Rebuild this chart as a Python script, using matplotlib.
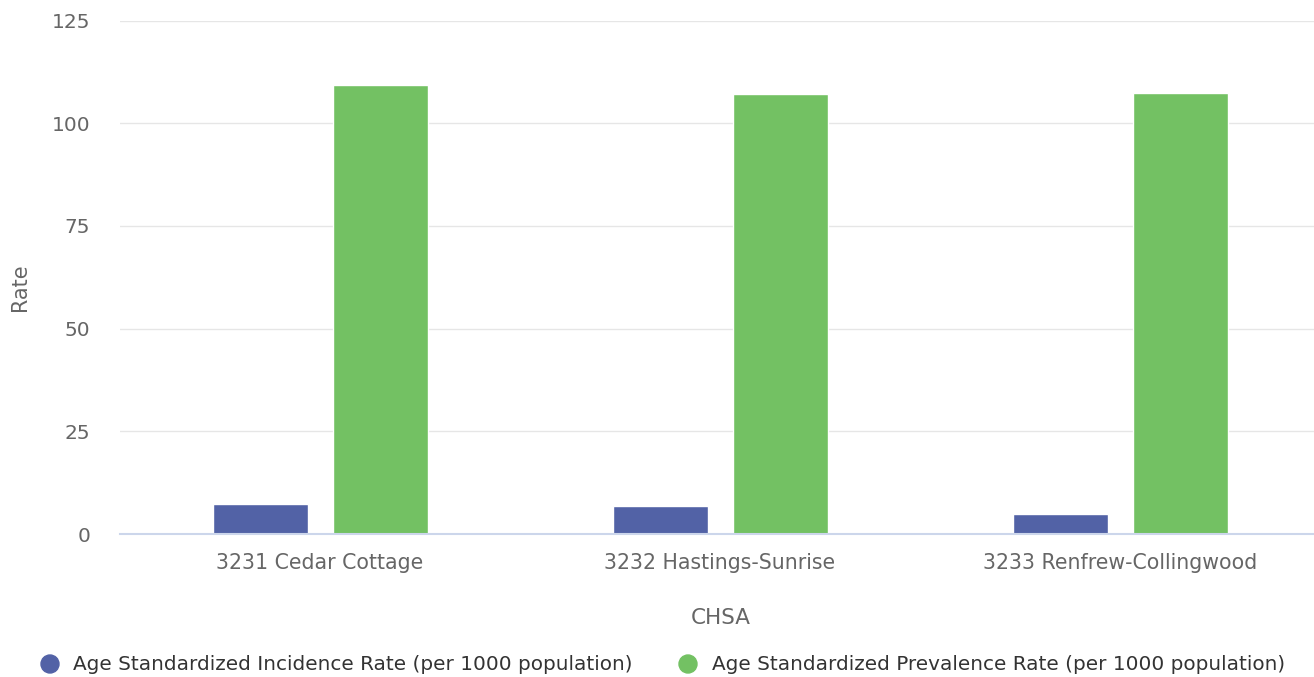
import matplotlib
matplotlib.use("Agg")
import matplotlib.pyplot as plt
import numpy as np

plt.rcParams['font.family'] = ['DejaVu Sans']

categories = ["3231 Cedar Cottage", "3232 Hastings-Sunrise", "3233 Renfrew-Collingwood"]
incidence = [7.2, 6.7, 4.9]
prevalence = [109.2, 107.0, 107.4]
series_names = ["Age Standardized Incidence Rate (per 1000 population)",
                "Age Standardized Prevalence Rate (per 1000 population)"]
yticks = [0, 25, 50, 75, 100, 125]

blue = "#5262a6"
green = "#73c163"
txt = "#666666"

W, H = 1314, 677
fig = plt.figure(figsize=(W / 100, H / 100), dpi=100)
ax = fig.add_axes([120 / W, 1 - 534 / H, 1200 / W, (534 - 20.5) / H])

x = np.arange(len(categories))
bw = 0.2375
off = 0.15
ax.bar(x - off, incidence, bw, color=blue, edgecolor="white", linewidth=1, zorder=3)
ax.bar(x + off, prevalence, bw, color=green, edgecolor="white", linewidth=1, zorder=3)

ax.set_xlim(-0.5, 2.5)
ax.set_ylim(0, 125)
ax.set_yticks(yticks)
ax.set_yticklabels([str(v) for v in yticks])
ax.set_xticks(x)
ax.set_xticklabels(categories)
ax.grid(axis="y", color="#e6e6e6", linewidth=1, zorder=0)
for s in ["top", "right", "left"]:
    ax.spines[s].set_visible(False)
ax.spines["bottom"].set_color("#ccd6eb")
ax.spines["bottom"].set_linewidth(1.5)
ax.spines["bottom"].set_zorder(4)
ax.tick_params(axis="y", length=0, pad=21.5, labelsize=14.5, labelcolor=txt)
ax.tick_params(axis="x", length=0, pad=13.5, labelsize=14.8, labelcolor=txt)

fig.text(20 / W, 1 - 287 / H, "Rate", rotation=90, ha="center", va="center", fontsize=15, color=txt)
fig.text(721 / W, 1 - 618 / H, "CHSA", ha="center", va="center", fontsize=15.5, color=txt)

# legend
ly = 1 - 664 / H
fig.patches.append(matplotlib.patches.Ellipse((50 / W, ly), 18 / W, 18 / H, transform=fig.transFigure, color=blue))
fig.text(73 / W, ly, series_names[0], ha="left", va="center", fontsize=14.4, color="#333333")
fig.patches.append(matplotlib.patches.Ellipse((688 / W, ly), 18 / W, 18 / H, transform=fig.transFigure, color=green))
fig.text(712 / W, ly, series_names[1], ha="left", va="center", fontsize=14.4, color="#333333")

fig.savefig("out.png", dpi=100)
